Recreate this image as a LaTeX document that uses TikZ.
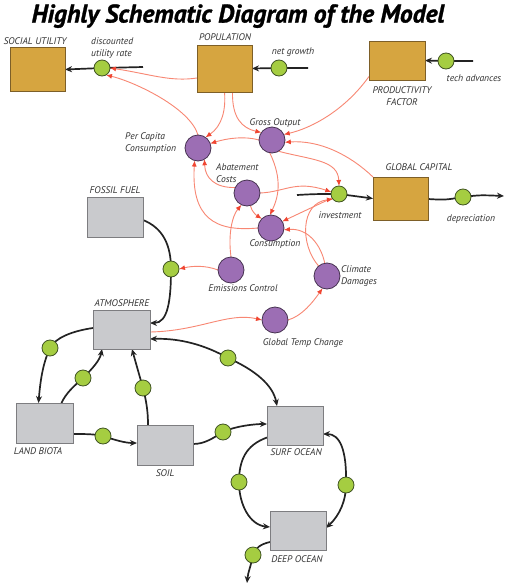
\documentclass[tikz,border=0pt]{standalone}
\usepackage{fontspec}
\setmainfont{PT Sans}
\newfontfamily\titlefont{PT Sans Bold Italic}[FakeBold=1.2]
\usetikzlibrary{arrows.meta}
\definecolor{boxor}{RGB}{214,165,64}
\definecolor{boxorb}{RGB}{125,95,40}
\definecolor{boxgr}{RGB}{201,202,205}
\definecolor{boxgrb}{RGB}{125,125,128}
\definecolor{purp}{RGB}{156,110,180}
\definecolor{purpb}{RGB}{70,50,80}
\definecolor{grn}{RGB}{165,205,65}
\definecolor{grnb}{RGB}{65,85,35}
\definecolor{redline}{RGB}{248,135,115}
\definecolor{redtip}{RGB}{240,70,50}
\definecolor{blk}{RGB}{35,35,35}
\definecolor{txt}{RGB}{50,50,50}
\pgfdeclarelayer{bg}
\pgfsetlayers{bg,main}
\begin{document}
\begin{tikzpicture}[x=1pt,y=-1pt,
  orbox/.style={draw=boxorb, fill=boxor, line width=0.8pt, inner sep=0pt, outer sep=0pt},
  grbox/.style={draw=boxgrb, fill=boxgr, line width=0.8pt, inner sep=0pt, outer sep=0pt},
  aux/.style={circle, draw=purpb, fill=purp, line width=0.8pt, minimum size=26pt, inner sep=0pt, outer sep=0pt},
  rate/.style={circle, draw=grnb, fill=grn, line width=0.8pt, minimum size=16pt, inner sep=0pt, outer sep=0pt},
  lab/.style={font=\fontsize{9.6}{12}\selectfont\itshape, text=txt, inner sep=0pt},
  flow/.style={draw=blk, line width=1.7pt},
  fl/.style={flow, -{Stealth[length=7pt,width=6pt]}},
  flb/.style={flow, {Stealth[length=7pt,width=6pt]}-{Stealth[length=7pt,width=6pt]}},
  info/.style={draw=redline, line width=0.9pt, -{Latex[length=6pt,width=5pt,color=redtip]}}
]
\useasboundingbox (0,0) rectangle (508,584);

% title
\node[font=\titlefont\fontsize{25.5}{30}\selectfont, text=black, anchor=base, inner sep=0pt] (title) at (238,22.5) {Highly Schematic Diagram of the Model};

% stocks
\node[orbox, minimum width=55pt, minimum height=44pt] (su) at (37.5,69.5) {};
\node[orbox, minimum width=55pt, minimum height=47pt] (pop) at (224.5,68.5) {};
\node[orbox, minimum width=56pt, minimum height=39pt] (prod) at (397,60.5) {};
\node[orbox, minimum width=55pt, minimum height=43pt] (gc) at (400.5,198.5) {};
\node[grbox, minimum width=56pt, minimum height=40pt] (ff) at (115,217) {};
\node[grbox, minimum width=57pt, minimum height=39pt] (atm) at (121.5,329.5) {};
\node[grbox, minimum width=57pt, minimum height=40pt] (lb) at (44.5,423) {};
\node[grbox, minimum width=56pt, minimum height=40pt] (soil) at (165,445) {};
\node[grbox, minimum width=56pt, minimum height=39pt] (so) at (295,425.5) {};
\node[grbox, minimum width=56pt, minimum height=39pt] (do) at (298,530.5) {};

% auxiliaries
\node[aux] (go) at (272,140) {};
\node[aux] (pcc) at (198,148) {};
\node[aux] (ac) at (247,193) {};
\node[aux] (cons) at (271,228) {};
\node[aux] (ec) at (231,270) {};
\node[aux] (cd) at (327,276) {};
\node[aux] (gtc) at (275,320) {};

% rates
\node[rate] (dur) at (102,68) {};
\node[rate] (ng) at (279,68) {};
\node[rate] (ta) at (446,61) {};
\node[rate] (inv) at (339,194) {};
\node[rate] (dep) at (463,197) {};
\node[rate] (emg) at (171,269) {};
\node[rate] (g1) at (50,348) {};
\node[rate] (g2) at (83,378) {};
\node[rate] (g3) at (143,388) {};
\node[rate] (g4) at (228,358) {};
\node[rate] (g5) at (103,436) {};
\node[rate] (g6) at (223,432) {};
\node[rate] (g7) at (239,482) {};
\node[rate] (g8) at (346,485) {};
\node[rate] (g9) at (253,555) {};

% free ends
\coordinate (e1) at (143,67);
\coordinate (e2) at (308,68);
\coordinate (e3) at (473,61);
\coordinate (e4) at (297,195);
\coordinate (e5) at (504,196);
\coordinate (e6) at (247,583);

% labels
\node[lab] (lsu) at (35,41) {SOCIAL UTILITY};
\node[lab, anchor=west, align=left] (ldur) at (91,48.5) {discounted\\utility rate};
\node[lab] (lpop) at (225,37) {POPULATION};
\node[lab] (lng) at (293,52) {net growth};
\node[lab] (lta) at (474,78) {tech advances};
\node[lab, align=center] (lprod) at (402,96.5) {PRODUCTIVITY\\FACTOR};
\node[lab] (lgo) at (275,123) {Gross Output};
\node[lab, anchor=west, align=left] (lpcc) at (125,143) {Per Capita\\Consumption};
\node[lab, anchor=west, align=left] (lac) at (216,173.5) {Abatement\\Costs};
\node[lab] (lgc) at (419,167) {GLOBAL CAPITAL};
\node[lab] (linv) at (340,215) {investment};
\node[lab] (ldep) at (471,219) {depreciation};
\node[lab] (lff) at (115,190) {FOSSIL FUEL};
\node[lab] (lcons) at (275,244) {Consumption};
\node[lab] (lec) at (243,288) {Emissions Control};
\node[lab, anchor=west, align=left] (lcd) at (341,276) {Climate\\Damages};
\node[lab] (latm) at (122,303) {ATMOSPHERE};
\node[lab] (lgtc) at (303,343) {Global Temp Change};
\node[lab] (llb) at (38,451) {LAND BIOTA};
\node[lab] (lsoil) at (165,473) {SOIL};
\node[lab] (lso) at (296,452) {SURF OCEAN};
\node[lab] (ldo) at (297,559) {DEEP OCEAN};

\begin{pgfonlayer}{bg}
\fill[white] (0,0) rectangle (508,584);
% black flows
\draw[fl] (e1) -- (dur.center) -- (su.east);
\draw[fl] (e2) -- (ng.center) -- (pop.east);
\draw[fl] (e3) -- (ta.center) -- (prod.east);
\draw[fl] (e4) .. controls (315,194) .. (inv.center) -- (gc.west);
\draw[fl] ([yshift=-0.5pt]gc.east) .. controls (445,200) .. (dep.center) .. controls (480,195) .. (e5);
\draw[fl] ([yshift=-3pt]ff.east) .. controls (163,228) and (171,245) .. (emg.center) .. controls (171,300) and (168,323) .. ([yshift=6.5pt]atm.east);
\draw[fl] ([yshift=1.5pt]atm.west) .. controls (72,331) and (55,338) .. (g1.center) .. controls (42,365) and (40,385) .. ([xshift=-6pt]lb.north);
\draw[fl] ([xshift=17pt]lb.north) .. controls (66,393) and (74,386) .. (g2.center) .. controls (93,368) and (100,360) .. ([xshift=-19.5pt]atm.south);
\draw[fl] ([xshift=-17pt]soil.north) .. controls (148,410) and (146,400) .. (g3.center) .. controls (139,374) and (135,360) .. ([xshift=10.5pt]atm.south);
\draw[flb] ([yshift=-9.5pt]atm.east) .. controls (180,338) and (205,345) .. (g4.center) .. controls (255,370) and (273,385) .. ([xshift=-18pt]so.north);
\draw[fl] ([yshift=-11pt]lb.east) .. controls (85,434) and (95,434) .. (g5.center) .. controls (115,440) and (125,443) .. ([yshift=2pt]soil.west);
\draw[fl] ([yshift=1pt]soil.east) .. controls (205,444) and (213,438) .. (g6.center) .. controls (235,426) and (255,424) .. ([yshift=1.5pt]so.west);
\draw[fl] ([yshift=-12pt]so.west) .. controls (246,445) and (239,460) .. (g7.center) .. controls (239,505) and (250,525) .. ([yshift=3.5pt]do.west);
\draw[flb] ([yshift=2.5pt]do.east) .. controls (340,515) and (346,500) .. (g8.center) .. controls (347,450) and (340,434) .. ([yshift=-8.5pt]so.east);
\draw[fl] ([yshift=-11.5pt]do.west) .. controls (261,544) and (255,548) .. (g9.center) .. controls (251,566) and (248,572) .. (e6);

% red information links
\draw[info] ([yshift=-9.5pt]pop.west) .. controls (170,82) and (150,74) .. (dur.east);
\draw[info] (pcc.north) .. controls (190,108) and (135,82) .. (dur.-60);
\draw[info] (pop.south) .. controls (226,110) and (222,126) .. (pcc.55);
\draw[info] ([xshift=8pt]pop.south) .. controls (232,118) and (242,128) .. (go.145);
\draw[info] ([yshift=-16pt]prod.west) .. controls (345,110) and (312,128) .. (go.25);
\draw[info] (gc.north west) .. controls (350,155) and (320,140) .. (go.-10);
\draw[info] (go.west) .. controls (245,136) and (228,138) .. (pcc.20);
\draw[info] (go.-60) .. controls (312,160) and (338,160) .. (inv.north);
\draw[info] (go.-100) .. controls (283,180) and (278,198) .. (cons.95);
\draw[info] (ac.155) .. controls (215,188) and (205,178) .. (pcc.-60);
\draw[info] (ac.east) .. controls (285,192) and (295,180) .. (inv.165);
\draw[info] (ac.-75) .. controls (252,212) and (256,215) .. (cons.135);
\draw[info] (cons.west) .. controls (215,232) and (191,218) .. (pcc.-105);
\draw[info] (inv.-150) .. controls (315,206) and (298,214) .. (cons.30);
\draw[info] (cd.100) .. controls (321,245) and (308,228) .. (cons.-8);
\draw[info] (cd.130) .. controls (300,245) and (300,203) .. (inv.-140);
\draw[info] (ec.north) .. controls (228,235) and (232,216) .. (ac.-115);
\draw[info] (ec.west) .. controls (205,265) and (192,266) .. (emg.east);
\draw[info] ([yshift=-2.5pt]atm.east) .. controls (200,331) and (228,312) .. (gtc.west);
\draw[info] (gtc.east) .. controls (302,316) and (313,302) .. (cd.-110);
\end{pgfonlayer}
\end{tikzpicture}
\end{document}
